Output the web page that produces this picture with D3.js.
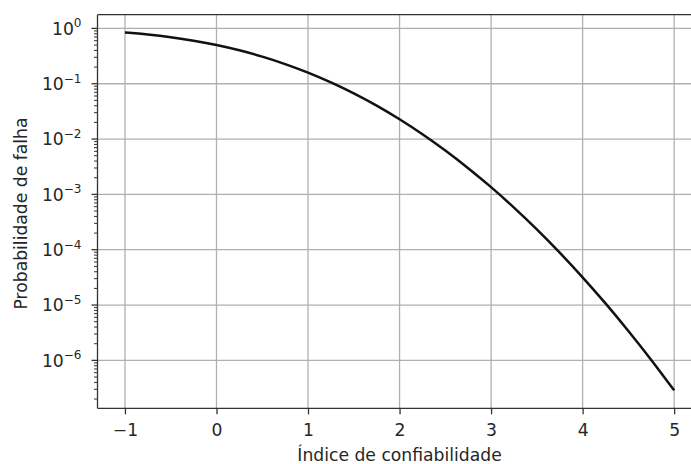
<!DOCTYPE html>
<html>
<head>
<meta charset="utf-8">
<script src="https://cdn.jsdelivr.net/npm/d3@7"></script>
<style>
  html, body { margin: 0; padding: 0; background: #fff; }
  svg { display: block; }
  text { font-family: "DejaVu Sans", sans-serif; fill: #262626; }
</style>
</head>
<body>
<svg id="chart" width="691" height="464"></svg>
<script>
// Reliability index (beta) and the corresponding probability of failure
const beta = [-1, -0.75, -0.5, -0.25, 0, 0.25, 0.5, 0.75, 1, 1.25, 1.5, 1.75, 2,
              2.25, 2.5, 2.75, 3, 3.25, 3.5, 3.75, 4, 4.25, 4.5, 4.75, 5];
const pf = [0.8413, 0.7734, 0.6915, 0.5987, 0.5, 0.4013, 0.3085, 0.2266, 0.1587,
            0.1056, 0.0668, 0.0401, 0.02275, 0.01222, 0.00621, 0.00298, 0.00135,
            5.77e-4, 2.33e-4, 8.84e-5, 3.17e-5, 1.07e-5, 3.40e-6, 1.02e-6, 2.87e-7];
const xTicks = [-1, 0, 1, 2, 3, 4, 5];
const yExponents = [0, -1, -2, -3, -4, -5, -6];
const xLabel = "Índice de confiabilidade";
const yLabel = "Probabilidade de falha";

const svg = d3.select("#chart");
const box = { left: 97.5, top: 14.7, bottom: 408.3, right: 701.6 };
const fontSize = 17.2;
const spine = "#333";

const x = d3.scaleLinear().domain([-1.3, 5.3]).range([box.left, box.right]);
const y = d3.scaleLog().domain([Math.pow(10, -6.866), Math.pow(10, 0.2475)]).range([box.bottom, box.top]);

// grid
const grid = svg.append("g");
xTicks.forEach(t => {
  grid.append("line").attr("x1", x(t)).attr("x2", x(t)).attr("y1", box.top).attr("y2", box.bottom)
    .attr("stroke", "#b0b0b0").attr("stroke-width", 1.3);
});
yExponents.forEach(e => {
  grid.append("line").attr("y1", y(Math.pow(10, e))).attr("y2", y(Math.pow(10, e)))
    .attr("x1", box.left).attr("x2", box.right).attr("stroke", "#b0b0b0").attr("stroke-width", 1.3);
});

// curve
const line = d3.line().x((d, i) => x(beta[i])).y(d => y(d)).curve(d3.curveMonotoneX);
svg.append("path").datum(pf).attr("d", line).attr("fill", "none")
  .attr("stroke", "#111").attr("stroke-width", 2.5);

// x axis
const xAxis = d3.axisBottom(x).tickValues(xTicks).tickSize(6).tickPadding(9.5)
  .tickFormat(d => d < 0 ? "\u2212" + Math.abs(d) : String(d));
const gx = svg.append("g").attr("transform", `translate(0,${box.bottom})`).call(xAxis);
gx.select(".domain").remove();
gx.selectAll("line").attr("stroke", spine).attr("stroke-width", 1.3);
gx.selectAll("text").attr("font-size", fontSize).attr("fill", "#262626")
  .attr("font-family", "DejaVu Sans, sans-serif");

// y axis: major ticks with power-of-ten labels, minor ticks 2..9
const minorVals = [];
for (let e = -7; e <= 0; e++) for (let m = 2; m <= 9; m++) {
  const v = m * Math.pow(10, e);
  if (y(v) >= box.top && y(v) <= box.bottom) minorVals.push(v);
}
const gy = svg.append("g");
minorVals.forEach(v => {
  gy.append("line").attr("x1", box.left - 3.5).attr("x2", box.left).attr("y1", y(v)).attr("y2", y(v))
    .attr("stroke", spine).attr("stroke-width", 1);
});
yExponents.forEach(e => {
  const py = y(Math.pow(10, e));
  gy.append("line").attr("x1", box.left - 6).attr("x2", box.left).attr("y1", py).attr("y2", py)
    .attr("stroke", spine).attr("stroke-width", 1.3);
  const t = gy.append("text").attr("x", box.left - 16).attr("y", py + 6.3)
    .attr("text-anchor", "end").attr("font-size", fontSize);
  t.append("tspan").text("10");
  t.append("tspan").attr("font-size", fontSize * 0.7).attr("dy", -7.2)
    .text(e < 0 ? "\u2212" + Math.abs(e) : String(e));
});

// frame
svg.append("line").attr("x1", box.left).attr("x2", box.left).attr("y1", box.top).attr("y2", box.bottom)
  .attr("stroke", spine).attr("stroke-width", 1.3);
svg.append("line").attr("x1", box.left).attr("x2", box.right).attr("y1", box.bottom).attr("y2", box.bottom)
  .attr("stroke", spine).attr("stroke-width", 1.3);
svg.append("line").attr("x1", box.left).attr("x2", box.right).attr("y1", box.top).attr("y2", box.top)
  .attr("stroke", spine).attr("stroke-width", 1.3);

// axis labels
svg.append("text").attr("x", (box.left + box.right) / 2).attr("y", 460.5)
  .attr("text-anchor", "middle").attr("font-size", fontSize).text(xLabel);
svg.append("text").attr("transform", `translate(26.5,${(box.top + box.bottom) / 2 + 2}) rotate(-90)`)
  .attr("text-anchor", "middle").attr("font-size", fontSize).text(yLabel);
</script>
</body>
</html>
